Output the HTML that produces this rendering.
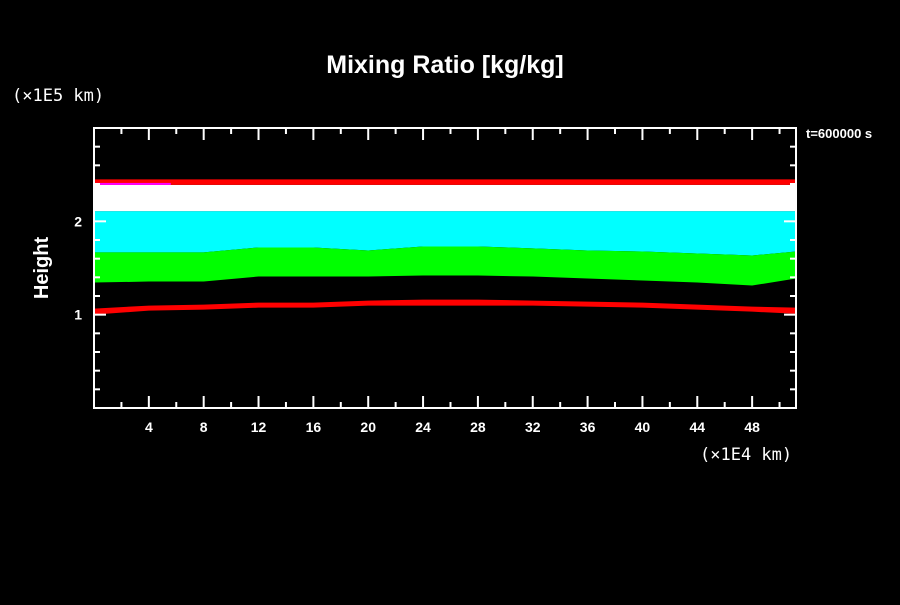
<!DOCTYPE html>
<html><head><meta charset="utf-8"><style>
body{margin:0;background:#000;}
svg text{font-family:"Liberation Sans",sans-serif;fill:#fff;}
</style></head><body>
<svg id="chart" width="900" height="600" viewBox="0 0 900 600">
<rect width="900" height="600" fill="#000"/>
<text x="445" y="73" font-size="25" font-weight="bold" text-anchor="middle">Mixing Ratio [kg/kg]</text>
<text x="12" y="101" font-size="17" style="font-family:'DejaVu Sans Mono',monospace">(×1E5 km)</text>
<text x="48" y="268" font-size="20" font-weight="bold" text-anchor="middle" transform="rotate(-90 48 268)">Height</text>
<text x="700" y="460" font-size="17" style="font-family:'DejaVu Sans Mono',monospace">(×1E4 km)</text>
<text x="806" y="138" font-size="13" font-weight="bold">t=600000 s</text>
<g id="marks"></g>
<g id="axes"></g>
</svg>
<script>
const xs = [0,4,8,12,16,20,24,28,32,36,40,44,48,51.2];
const greenTop = [1.667,1.667,1.667,1.720,1.720,1.688,1.731,1.731,1.710,1.688,1.677,1.656,1.634,1.677];
const greenBottom = [1.344,1.355,1.355,1.409,1.409,1.409,1.419,1.419,1.409,1.387,1.366,1.344,1.312,1.387];
const redLowTop = [1.065,1.097,1.108,1.129,1.129,1.151,1.161,1.161,1.151,1.140,1.129,1.108,1.086,1.075];
const redLowBottom = [1.000,1.043,1.054,1.075,1.075,1.097,1.097,1.097,1.097,1.086,1.075,1.054,1.032,1.010];
const whiteBand = [2.11,2.39];
const redTopBand = [2.39,2.45];
const cyanBottomFill = 2.11;
const xTicks = [4,8,12,16,20,24,28,32,36,40,44,48];
const yTicks = [1,2];
const X0=94,X1=796,Y0=408,Y1=128, XMAX=51.2, YMAX=3;
function sx(v){return X0+(X1-X0)*v/XMAX;}
function sy(v){return Y0-(Y0-Y1)*v/YMAX;}
const NS="http://www.w3.org/2000/svg";
const marks=document.getElementById('marks'), axes=document.getElementById('axes');
function mk(tag,attrs,parent){const e=document.createElementNS(NS,tag);for(const k in attrs)e.setAttribute(k,attrs[k]);parent.appendChild(e);return e;}
function band(top,bot,color,name){
  let d='M'+sx(xs[0])+','+sy(top[0]);
  for(let i=1;i<xs.length;i++)d+=' L'+sx(xs[i])+','+sy(top[i]);
  for(let i=xs.length-1;i>=0;i--)d+=' L'+sx(xs[i])+','+sy(bot[i]);
  const p=mk('path',{d:d+'Z',fill:color},marks);
  
  
}
const flat=v=>xs.map(()=>v);
band(flat(cyanBottomFill),greenTop,'#00ffff','cyan-band');
band(greenTop,greenBottom,'#00ff00','green-band');
band(redLowTop,redLowBottom,'#ff0000','lower-red-band');
band(flat(whiteBand[1]),flat(whiteBand[0]),'#ffffff','white-band');
band(flat(redTopBand[1]),flat(redTopBand[0]),'#ff0000','upper-red-band');
const mg=mk('rect',{x:X0,y:sy(redTopBand[0])-2,width:sx(5.6)-X0,height:2,fill:'#ff00ff'},marks);


const fr=mk('rect',{x:X0,y:Y1,width:X1-X0,height:Y0-Y1,fill:'none',stroke:'#fff','stroke-width':2},axes);


for(let v=2;v<XMAX;v+=2){
  const x=sx(v), L=(v%4===0)?12:6;
  mk('line',{x1:x,y1:Y0,x2:x,y2:Y0-L,stroke:'#fff','stroke-width':2},axes);
  mk('line',{x1:x,y1:Y1,x2:x,y2:Y1+L,stroke:'#fff','stroke-width':2},axes);
}
for(let k=1;k<15;k++){
  const v=k*0.2, y=sy(v), L=(k%5===0)?12:6;
  mk('line',{x1:X0,y1:y,x2:X0+L,y2:y,stroke:'#fff','stroke-width':2},axes);
  mk('line',{x1:X1,y1:y,x2:X1-L,y2:y,stroke:'#fff','stroke-width':2},axes);
}
xTicks.forEach(v=>{
  const t=mk('text',{x:sx(v),y:Y0+24,'font-size':14,'font-weight':'bold','text-anchor':'middle'},axes);
  t.textContent=v;
  
  
});
yTicks.forEach(v=>{
  const t=mk('text',{x:X0-12,y:sy(v)+5,'font-size':14,'font-weight':'bold','text-anchor':'end'},axes);
  t.textContent=v;
  
  
});
</script>
</body></html>
